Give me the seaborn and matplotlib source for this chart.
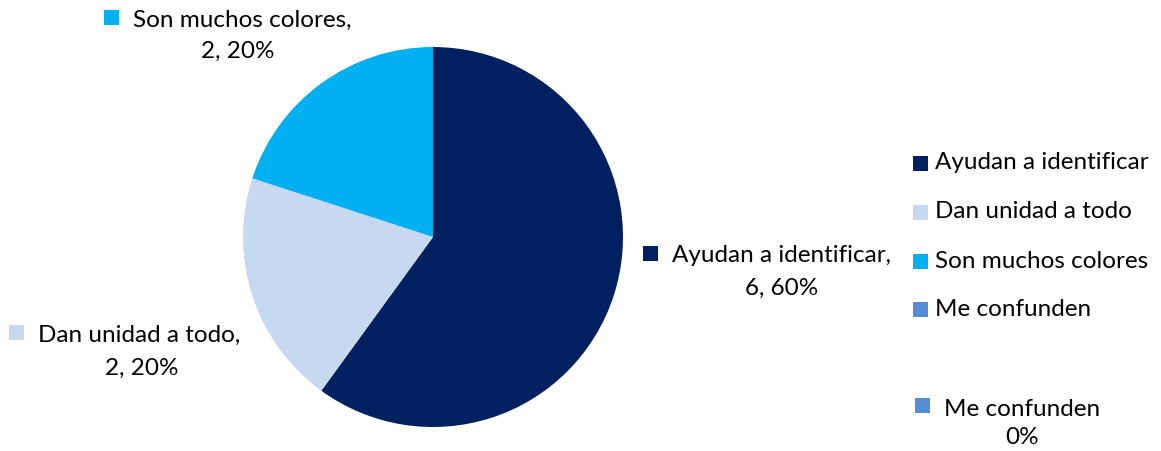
import matplotlib
matplotlib.use("Agg")
import matplotlib.pyplot as plt
from matplotlib.patches import Rectangle
import seaborn as sns

# Survey answers: count per category
categories = ["Ayudan a identificar", "Dan unidad a todo", "Son muchos colores", "Me confunden"]
counts = [6, 2, 2, 0]
colors = ["#002060", "#C6D9F1", "#00B0F0", "#558ED5"]

sns.set_theme(style="white")
plt.rcParams["font.family"] = ["Lato", "DejaVu Sans"]

W, H = 1161, 451
fig = plt.figure(figsize=(W / 100, H / 100), dpi=100)
fig.patch.set_facecolor("white")

# pie axes: centre (433, 237) px, radius 190 px
cx, cy, r = 433, 237, 190
ax = fig.add_axes([(cx - r) / W, (H - cy - r) / H, 2 * r / W, 2 * r / H])
ax.pie(counts, colors=colors, startangle=90, counterclock=False,
       radius=1.0, wedgeprops=dict(linewidth=0))
ax.set_xlim(-1, 1)
ax.set_ylim(-1, 1)
ax.set_aspect("equal")
ax.axis("off")

fs = 17.5
total = sum(counts)


def px(x, y):
    return x / W, 1 - y / H


def key(x, y, color, size=15):
    # square legend key, top-left corner at pixel (x, y)
    fig.patches.append(Rectangle(((x) / W, 1 - (y + size) / H), size / W, size / H,
                                 transform=fig.transFigure, facecolor=color,
                                 edgecolor="none"))


def label(i, kx, ky, tx, ty, tx2, ty2, show_count=True):
    key(kx, ky, colors[i])
    pct = round(100 * counts[i] / total)
    first = categories[i] + ("," if show_count else "")
    second = f"{counts[i]}, {pct}%" if show_count else f"{pct}%"
    fig.text(*px(tx, ty), first, ha="left", va="center", fontsize=fs, color="#000000")
    fig.text(*px(tx2, ty2), second, ha="center", va="center", fontsize=fs, color="#000000")


# data labels
label(2, 104, 10, 133, 20, 238, 51)
label(0, 643, 246, 672, 256, 782, 288)
label(1, 9, 325, 38, 335, 142, 368)
label(3, 915, 398, 944, 409, 1022, 438, show_count=False)

# legend
leg_y = [163, 212, 261, 309]
for i, y in enumerate(leg_y):
    key(913, y - 7, colors[i], size=15)
    fig.text(*px(935, y), categories[i], ha="left", va="center", fontsize=fs, color="#000000")

fig.savefig("out.png", dpi=100, facecolor="white")
